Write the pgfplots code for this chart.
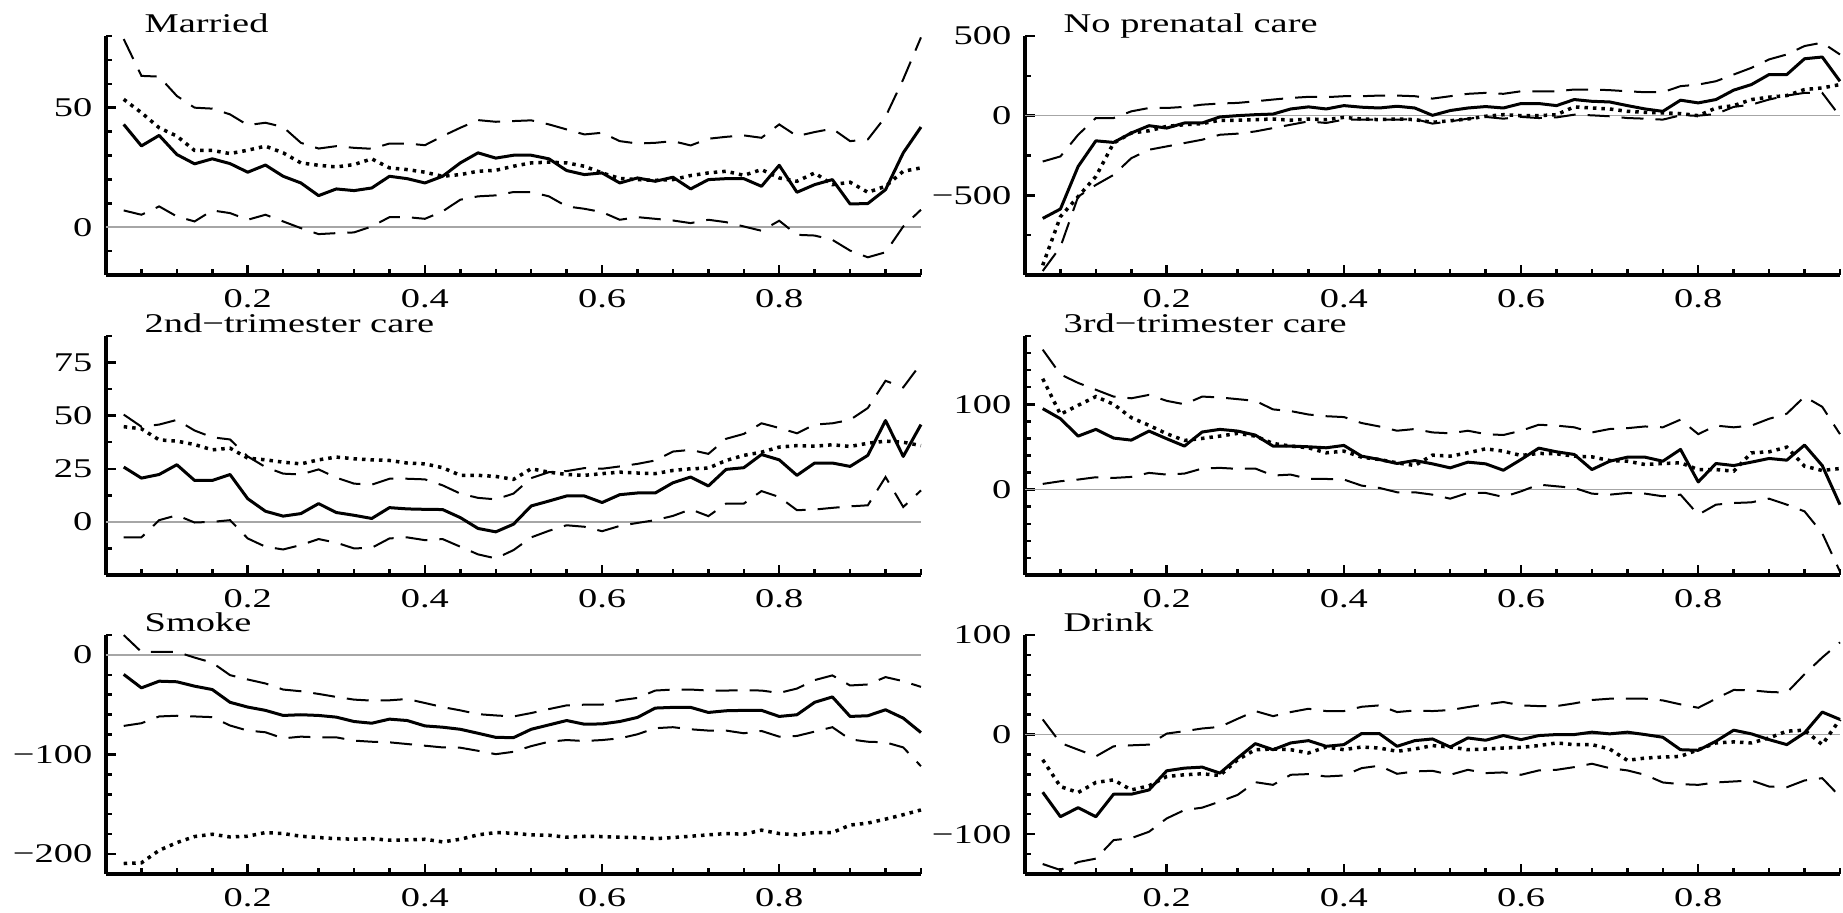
\documentclass[border=0pt]{standalone}
\usepackage{fontspec}
\setmainfont{Liberation Serif}[FakeStretch=1.42]
\usepackage{pgfplots}
\usepackage{pgfplotstable}
\pgfplotsset{compat=1.18}

% columns: x, solid (s), dotted (d), upper dashed (u), lower dashed (l)
\pgfplotstableread{
x s d u l
0.06 43 53.5 78.7 7
0.08 34 47.9 63.3 5.2
0.10 38.4 41.6 63 8.7
0.12 30.4 38.1 54.9 4.5
0.14 26.5 32.1 50 2.4
0.16 28.6 32.1 49.6 7
0.18 26.6 30.8 47.2 5.9
0.20 23 32.2 42.7 3.1
0.22 26 33.9 43.7 5.2
0.24 21.3 31.1 41.9 2.4
0.26 18.5 26.9 35.3 -0.4
0.28 13.2 25.9 32.9 -2.9
0.30 16 25.2 33.9 -2.5
0.32 15.3 26.2 33.2 -2.2
0.34 16.4 28.6 32.8 0.3
0.36 21.3 24.8 35 4.2
0.38 20.3 24.1 35 4.2
0.40 18.5 23 34.3 3.5
0.42 21.3 21.3 38.1 6.6
0.44 26.9 22 41.6 11.5
0.46 31.1 23.4 44.8 12.9
0.48 28.9 23.8 44.1 13.3
0.50 30.1 25.5 44.4 14.7
0.52 30.1 26.9 44.7 14.7
0.54 28.6 27.2 43 12.9
0.56 23.7 26.9 40.9 8.7
0.58 22 25.5 38.8 7.7
0.60 22.7 22.7 39.5 6.3
0.62 18.5 20.4 36 3.1
0.64 20.6 19.9 35 4.2
0.66 19.2 19.6 35.3 3.5
0.68 20.9 19.9 36 2.8
0.70 16 21.6 34.2 1.7
0.72 19.9 22.7 37 3.1
0.74 20.3 23.4 37.8 2.1
0.76 20.3 21.7 38.4 0.3
0.78 17.1 24.1 37.4 -1.5
0.80 25.9 20.6 43 2.7
0.82 14.6 19.2 38.1 -3.2
0.84 17.8 22.7 39.8 -3.5
0.86 19.9 17.8 41.2 -5.3
0.88 9.7 18.8 36 -9.8
0.90 9.9 14.6 36.7 -12.6
0.92 15.7 17.1 46.2 -10.5
0.94 31.1 23.4 61.9 0.3
0.96 41.9 24.8 79.4 7.3
}\tM

\pgfplotstableread{
x s d u l
0.06 -645 -939 -288 -975
0.08 -586 -634 -256 -824
0.10 -319 -508 -120 -508
0.12 -158 -382 -15 -435
0.14 -168 -172 -15 -372
0.16 -109 -109 27 -267
0.18 -63 -95 48 -214
0.20 -78 -67 48 -193
0.22 -46 -57 55 -172
0.24 -46 -50 69 -151
0.26 -8 -29 76 -120
0.28 0 -29 80 -113
0.30 6 -25 90 -99
0.32 10 -21 101 -78
0.34 42 -29 111 -57
0.36 55 -21 118 -36
0.38 42 -25 116 -46
0.40 63 -11 122 -25
0.42 53 -21 122 -25
0.44 48 -25 126 -25
0.46 59 -21 126 -25
0.48 48 -25 122 -21
0.50 2 -42 107 -50
0.52 32 -32 122 -36
0.54 48 -21 137 -19
0.56 57 -4 143 -8
0.58 48 6 137 -19
0.60 76 0 153 -8
0.62 76 0 153 -15
0.64 63 6 153 -11
0.66 101 55 164 6
0.68 90 48 164 2
0.70 86 42 160 -4
0.72 63 27 153 -15
0.74 42 21 147 -19
0.76 27 17 147 -25
0.78 97 13 185 2
0.80 80 0 195 0
0.82 101 48 216 10
0.84 160 63 258 55
0.86 195 101 300 69
0.88 258 116 353 101
0.90 258 126 384 126
0.92 357 164 437 143
0.94 368 174 458 143
0.96 216 195 384 -4
}\tN

\pgfplotstableread{
x s d u l
0.06 25.8 44.8 50.5 -7.3
0.08 20.6 43.8 44.8 -7.3
0.10 22.3 38.6 45.8 0.8
0.12 26.9 38 48 3.1
0.14 19.5 36.4 43 -0.3
0.16 19.5 33.9 39.8 0
0.18 22.3 34.7 38.8 0.8
0.20 10.9 30 30.8 -7.8
0.22 5 29.2 25.8 -11.7
0.24 2.7 28.1 22.7 -13
0.26 3.9 27.3 22.3 -10.9
0.28 8.6 29.2 24.7 -8.1
0.30 4.4 30.5 20.8 -9.8
0.32 3.1 29.7 18 -12.5
0.34 1.6 29.2 17.5 -12.2
0.36 6.7 28.9 20.3 -7.8
0.38 6.1 27.7 20.3 -7.3
0.40 5.9 27.3 20 -8.6
0.42 5.8 25.5 17.2 -8.1
0.44 2 21.9 13.3 -11.7
0.46 -3.1 21.9 11.3 -15.3
0.48 -4.7 21.4 10.6 -17.2
0.50 -1.1 20 13.3 -13.3
0.52 7.5 25 20.6 -7.3
0.54 9.8 23.4 23.4 -4.2
0.56 12.2 22.3 23.9 -1.6
0.58 12.2 21.9 25.3 -2.3
0.60 9.1 22.7 25 -4.4
0.62 12.8 23.4 26.1 -1.9
0.64 13.6 23 27.3 -0.5
0.66 13.6 22.7 28.9 0.8
0.68 18.4 24.2 33.1 2.8
0.70 21.1 25 33.9 5.9
0.72 16.9 25.3 32 2.7
0.74 24.7 28.9 39.1 8.6
0.76 25.5 31.3 41.4 8.6
0.78 31.7 32.8 46.4 14.5
0.80 29.2 35.2 44.2 11.7
0.82 21.9 35.9 41.7 5.5
0.84 27.7 35.6 45.8 5.8
0.86 27.7 36.3 46.4 6.6
0.88 26.1 35.5 48 7.3
0.90 31.3 37 53.6 7.8
0.92 47.7 38 66.4 21.1
0.94 30.8 37.5 63.3 7
0.96 45.8 35.9 74.5 14.8
}\tA

\pgfplotstableread{
x s d u l
0.06 94.9 130 164 6.7
0.08 83.1 88.2 135 9.8
0.10 62.7 98.8 125 11.8
0.12 70.6 109 117 14.5
0.14 60.4 100 109 13.7
0.16 58 84.3 107 14.9
0.18 68.6 75.3 111 19.6
0.20 59.6 65.5 104 17.6
0.22 51 57.6 100 18.8
0.24 67.5 60 109 24.7
0.26 70.6 62.7 108 25.5
0.28 68.6 65.9 106 24.3
0.30 63.9 62.7 104 24.7
0.32 51 54.1 94 16.5
0.34 51 51 92 17.6
0.36 50.2 49 88 12.5
0.38 49 43.1 86 12.5
0.40 51.8 45.1 85 11.8
0.42 39.2 38 78 4.7
0.44 35.3 35.3 74 2
0.46 30.6 31.4 69 -3.1
0.48 34.1 28.2 71 -3.1
0.50 30.2 40.4 67 -5.9
0.52 25.5 39.2 66 -10.6
0.54 32.2 43.1 69 -3.9
0.56 30.2 47.8 65 -3.9
0.58 22.7 45.1 64 -8.6
0.60 35.3 40 69 -2
0.62 48.6 42.4 76 5.9
0.64 44.3 42 75 3.9
0.66 41.2 39.2 73 2
0.68 23.5 38.4 67 -4.7
0.70 33.3 34.1 71 -5.9
0.72 38 33.3 72 -3.9
0.74 38 29.4 74 -4.7
0.76 33.3 30.6 73 -7.8
0.78 47.1 31.4 82 -5.9
0.80 9 23.5 65 -29.4
0.82 30.6 23.5 75 -17.6
0.84 28.2 21.6 73 -15.7
0.86 32.2 43.1 75 -14.9
0.88 36.5 44.3 83 -10.6
0.90 34.5 49.8 89 -17.6
0.92 52.2 27.5 109 -25.5
0.94 28.2 22.4 97 -51
0.96 -17.6 24.7 65 -96
}\tB

\pgfplotstableread{
x s d u l
0.06 -19.6 -209.5 19.9 -71.3
0.08 -33.1 -208.8 3 -68.6
0.10 -26.4 -196.3 3 -61.8
0.12 -27 -188.5 3 -61.1
0.14 -31.4 -182.4 -2.7 -61.8
0.16 -34.8 -180.1 -7.8 -62.5
0.18 -47.6 -182.8 -20.3 -70.9
0.20 -52.4 -182.1 -24.7 -76
0.22 -55.7 -178.4 -28.7 -77.7
0.24 -60.8 -179.4 -34.8 -83.8
0.26 -60.1 -182.1 -36.5 -82.1
0.28 -60.8 -183.4 -39.2 -82.8
0.30 -62.5 -184.5 -42.2 -82.8
0.32 -66.9 -185.1 -44.9 -86.1
0.34 -68.6 -184.5 -45.9 -87.2
0.36 -64.5 -186.1 -45.6 -87.8
0.38 -65.9 -185.8 -44.3 -89.5
0.40 -71.3 -185.1 -48.3 -91.2
0.42 -72.6 -187.8 -52.4 -92.9
0.44 -74.7 -185.1 -55.7 -93.2
0.46 -78.7 -180.7 -59.5 -96.3
0.48 -82.8 -178.4 -60.8 -99.7
0.50 -83.1 -179.1 -61.8 -97.3
0.52 -74.7 -180.7 -58.4 -91.6
0.54 -70.3 -181.1 -54.4 -87.2
0.56 -65.9 -183.1 -50.7 -85.5
0.58 -69.6 -182.1 -50 -86.5
0.60 -69.3 -182.4 -50 -85.5
0.62 -66.9 -183.1 -45.6 -83.8
0.64 -62.8 -183.4 -43.2 -79.7
0.66 -53.4 -184.5 -35.8 -73.6
0.68 -52.7 -183.4 -34.8 -72.6
0.70 -52.7 -182.1 -34.8 -74.7
0.72 -57.8 -180.7 -35.8 -76
0.74 -56.1 -179.4 -35.8 -76
0.76 -55.7 -180.1 -35.5 -78.7
0.78 -55.7 -176 -35.8 -76.4
0.80 -61.8 -179.4 -38.2 -82.1
0.82 -60.1 -180.7 -33.8 -81.4
0.84 -47.6 -178.4 -25.3 -77
0.86 -42.2 -178.4 -20.6 -72.6
0.88 -61.8 -170.9 -30.7 -84.8
0.90 -61.1 -168.9 -29.7 -87.2
0.92 -55.1 -164.9 -22.3 -87.8
0.94 -63.5 -160.5 -26.4 -92.9
0.96 -78 -155.7 -32.1 -111.8
}\tS

\pgfplotstableread{
x s d u l
0.06 -57.9 -25.3 15.2 -130
0.08 -82.5 -52.2 -8.4 -136
0.10 -73.4 -58.2 -15.2 -128
0.12 -82.5 -48.1 -21.9 -124.6
0.14 -59.9 -45.5 -11.8 -106
0.16 -59.9 -55.6 -10.8 -104
0.18 -55.6 -51.5 -10.1 -97.6
0.20 -36.4 -42.1 1 -84.2
0.22 -33.7 -40.4 3.4 -75.8
0.24 -32.7 -39.4 6.1 -73.4
0.26 -38.7 -41.1 7.7 -67.3
0.28 -23.6 -25.3 15.8 -60.6
0.30 -9.1 -15.2 23.6 -47.8
0.32 -15.2 -14.5 18.5 -50.5
0.34 -8.4 -15.2 22.6 -40.4
0.36 -6.1 -18.5 25.9 -39.7
0.38 -11.8 -12.5 23.6 -42.1
0.40 -10.1 -15.2 23.6 -41.1
0.42 1 -12.5 27.9 -33.7
0.44 1 -13.5 29.3 -31.3
0.46 -11.8 -16.8 22.6 -39.4
0.48 -6.1 -14.5 24.2 -37
0.50 -4.4 -11.1 23.6 -36.4
0.52 -12.5 -12.5 24.6 -40.4
0.54 -3.4 -15.2 27.6 -35.4
0.56 -5.7 -14.5 30.3 -38.7
0.58 -1 -13.5 32.7 -38
0.60 -5.1 -12.8 29.3 -40.4
0.62 -1 -11.1 28.6 -36
0.64 0 -8.4 28.6 -35.4
0.66 0 -10.1 31.3 -32.7
0.68 2.4 -10.1 34.7 -29.3
0.70 0.7 -14.5 36 -33.7
0.72 2.4 -25.9 36 -36
0.74 0 -23.6 36 -40.4
0.76 -2.7 -22.6 34.3 -48.1
0.78 -15.2 -21.9 30.3 -49.8
0.80 -15.8 -15.2 26.9 -50.5
0.82 -6.7 -8.4 36 -48.1
0.84 4.4 -7.4 44.8 -47.1
0.86 0.7 -8.4 44.4 -46.1
0.88 -5.1 -3.4 42.8 -52.2
0.90 -10.1 3.4 42.1 -52.9
0.92 1.7 4.4 60.6 -46.1
0.94 22.6 -10.1 77.4 -43.8
0.96 15.2 15.2 92.6 -62.3
}\tD

\pgfplotsset{
  panel/.style={
    scale only axis, width=81.5mm, height=23.9mm,
    anchor=south west,
    xmin=0.04, xmax=0.96,
    enlargelimits=false,
    axis x line=bottom, axis y line=left,
    axis line style={-, line width=0.4mm, black},
    tick align=inside,
    major tick length=1mm, minor tick length=0.6mm,
    tick style={black, line width=0.25mm},
    xtick={0.2,0.4,0.6,0.8}, xticklabels={0.2,0.4,0.6,0.8},
    minor xtick={0.08,0.12,0.16,0.24,0.28,0.32,0.36,0.44,0.48,0.52,0.56,0.64,0.68,0.72,0.76,0.84,0.88,0.92,0.96},
    xticklabel style={inner sep=0pt, yshift=-1.4mm},
    yticklabel style={inner sep=0pt, xshift=-1.3mm},
    clip=false,
  },
  zero/.style={gray!70, line width=0.15mm},
  sld/.style={black, line width=0.3mm, line join=round},
  dot/.style={black, line width=0.35mm, dash pattern=on 0.35mm off 0.5mm},
  dsh/.style={black, line width=0.2mm, dash pattern=on 2.2mm off 1.2mm},
}
\tikzset{ttl/.style={anchor=base west, xshift=3.8mm, yshift=0.3mm, inner sep=0pt}}

\newcommand{\four}[1]{%
  \addplot[zero] coordinates {(0.04,0) (0.96,0)};
  \addplot[dsh] table[x=x,y=u]{#1};
  \addplot[dsh] table[x=x,y=l]{#1};
  \addplot[dot] table[x=x,y=d]{#1};
  \addplot[sld] table[x=x,y=s]{#1};
}

\begin{document}
\begin{tikzpicture}[font=\fontsize{7.7}{9}\selectfont]
\path[use as bounding box] (0,0) rectangle (184.3mm,91.3mm);

\begin{axis}[panel, at={(10.6mm,63.8mm)},
  ymin=-20, ymax=80, ytick={0,50}, yticklabels={0,50},
  minor ytick={-10,10,20,30,40,60,70,80}]
\four{\tM}
\node[ttl] at (rel axis cs:0,1) {Married};
\end{axis}

\begin{axis}[panel, at={(102.5mm,63.8mm)},
  ymin=-1000, ymax=500, ytick={-500,0,500}, yticklabels={−500,0,500},
  minor ytick={-1000,-750,-250,250}]
\four{\tN}
\node[ttl] at (rel axis cs:0,1) {No prenatal care};
\end{axis}

\begin{axis}[panel, at={(10.6mm,33.8mm)},
  ymin=-25, ymax=87.5, ytick={0,25,50,75}, yticklabels={0,25,50,75},
  minor ytick={-25,-12.5,12.5,37.5,62.5,87.5}]
\four{\tA}
\node[ttl] at (rel axis cs:0,1) {2nd−trimester care};
\end{axis}

\begin{axis}[panel, at={(102.5mm,33.8mm)},
  ymin=-100, ymax=180, ytick={0,100}, yticklabels={0,100},
  minor ytick={-100,-80,-60,-40,-20,20,40,60,80,120,140,160,180}]
\four{\tB}
\node[ttl] at (rel axis cs:0,1) {3rd−trimester care};
\end{axis}

\begin{axis}[panel, at={(10.6mm,3.9mm)},
  ymin=-220, ymax=20, ytick={-200,-100,0}, yticklabels={−200,−100,0},
  minor ytick={-220,-180,-160,-140,-120,-80,-60,-40,-20,20}]
\four{\tS}
\node[ttl] at (rel axis cs:0,1) {Smoke};
\end{axis}

\begin{axis}[panel, at={(102.5mm,3.9mm)},
  ymin=-140, ymax=100, ytick={-100,0,100}, yticklabels={−100,0,100},
  minor ytick={-140,-120,-80,-60,-40,-20,20,40,60,80}]
\four{\tD}
\node[ttl] at (rel axis cs:0,1) {Drink};
\end{axis}
\end{tikzpicture}
\end{document}
